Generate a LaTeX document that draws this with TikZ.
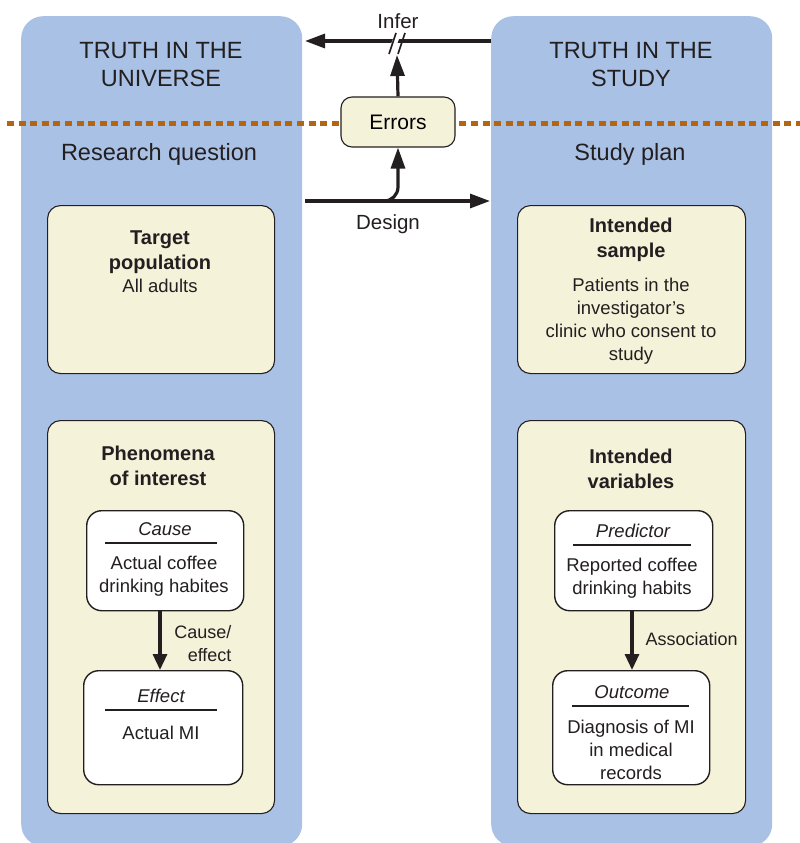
\documentclass[tikz,border=0pt]{standalone}
\usepackage{fontspec}
\setmainfont{Liberation Sans}
\usetikzlibrary{arrows.meta}
\definecolor{colblue}{HTML}{A9C1E5}
\definecolor{creamfill}{HTML}{F5F2DA}
\definecolor{dotbrown}{HTML}{B4650F}
\definecolor{inkdark}{HTML}{231F20}
\newcommand\fsz[2]{\fontsize{#1}{#2}\selectfont}
\begin{document}
\begin{tikzpicture}[x=1pt,y=-1pt,
  column/.style={fill=colblue, rounded corners=22pt, minimum width=281pt, minimum height=830pt, anchor=north west, inner sep=0pt},
  panel/.style={draw=inkdark, fill=creamfill, line width=1.1pt, rounded corners=13pt, anchor=north west, inner sep=0pt},
  innerbox/.style={draw=inkdark, fill=white, line width=1.4pt, rounded corners=15pt, anchor=north west, inner sep=0pt},
  errbox/.style={draw=inkdark, fill=creamfill, line width=1.1pt, rounded corners=11pt, minimum width=114pt, minimum height=50pt, inner sep=0pt, font=\fsz{21}{25}},
  txt/.style={yshift=-2pt, text=inkdark},
  bigtitle/.style={txt, align=center, font=\fsz{23.5}{28}},
  subtitle/.style={txt, align=center, font=\fsz{23.5}{28}},
  paneltitle/.style={txt, align=center, font=\fsz{20}{25}\bfseries},
  bodytext/.style={txt, align=center, font=\fsz{18.5}{23}},
  itlabel/.style={txt, font=\fsz{18.5}{23}\itshape},
  arrowtext/.style={txt, font=\fsz{20.5}{24}},
  sidetext/.style={txt, align=right, font=\fsz{18}{23}},
  bigarrow/.style={draw=inkdark, line width=3.2pt, -{Triangle[length=20pt,width=14pt]}},
  smallarrow/.style={draw=inkdark, line width=3.2pt, -{Triangle[length=16pt,width=14pt]}},
  uparrow/.style={draw=inkdark, line width=3.2pt, -{Triangle[length=21pt,width=14pt]}},
  rule/.style={draw=inkdark, line width=1.2pt}
]
\useasboundingbox (0,0) rectangle (800,843);

% columns
\node[column] (colL) at (21,16) {};
\node[column] (colR) at (491,16) {};

% dotted separator
\draw[dotbrown, line width=5pt, dash pattern=on 7pt off 4.6pt] (7,123) -- (800,123);

% column headings
\node[bigtitle] (tu) at (161,63) {TRUTH IN THE\\UNIVERSE};
\node[bigtitle] (ts) at (631,63) {TRUTH IN THE\\STUDY};
\node[subtitle] (rq) at (159,152) {Research question};
\node[subtitle] (sp) at (630,152) {Study plan};

% panels
\node[panel, minimum width=227pt, minimum height=168pt] (tp) at (47,205) {};
\node[panel, minimum width=228pt, minimum height=168pt] (is) at (517,205) {};
\node[panel, minimum width=227pt, minimum height=393pt] (pi) at (47,420) {};
\node[panel, minimum width=228pt, minimum height=393pt] (iv) at (517,420) {};

\node[paneltitle] (tpt) at (160,250) {Target\\population};
\node[bodytext] (tpb) at (160,284) {All adults};
\node[paneltitle] (ist) at (631,238) {Intended\\sample};
\node[bodytext] (isb) at (631,319) {Patients in the\\investigator's\\clinic who consent to\\study};
\node[paneltitle] (pit) at (158,464) {Phenomena\\of interest};
\node[paneltitle] (ivt) at (631,467) {Intended\\variables};

% inner boxes
\node[innerbox, minimum width=157pt, minimum height=100pt] (cause) at (86,510) {};
\node[innerbox, minimum width=159pt, minimum height=114pt] (effect) at (83,670) {};
\node[innerbox, minimum width=158pt, minimum height=100pt] (pred) at (554,510) {};
\node[innerbox, minimum width=157pt, minimum height=114pt] (outc) at (552,670) {};

\node[itlabel] (causel) at (165,527) {Cause};
\draw[rule] (105,543) -- (217,543);
\node[bodytext] (causet) at (164,574.5) {Actual coffee\\drinking habites};

\node[itlabel] (effectl) at (161,694) {Effect};
\draw[rule] (105,710) -- (217,710);
\node[bodytext] (effectt) at (161,731) {Actual MI};

\node[itlabel] (predl) at (633,529) {Predictor};
\draw[rule] (573,545) -- (691,545);
\node[bodytext] (predt) at (632,576.5) {Reported coffee\\drinking habits};

\node[itlabel] (outcl) at (632,690) {Outcome};
\draw[rule] (572,706) -- (689,706);
\node[bodytext] (outct) at (631,748) {Diagnosis of MI\\in medical\\records};

% inner arrows
\draw[smallarrow] (160,610) -- (160,670);
\node[sidetext, anchor=east] (cel) at (235,641.5) {Cause/\\effect};
\draw[smallarrow] (632,610) -- (632,670);
\node[sidetext, anchor=west] (asl) at (642,637) {Association};

% errors
\node[errbox] (err) at (398,122) {Errors};

% infer arrow
\draw[bigarrow] (491,41) -- (305,41);
\node[arrowtext] (infer) at (398,19) {Infer};
\fill[white] (391,44) -- (397,29) -- (403,29) -- (397,44) -- cycle;
\draw[inkdark, line width=1.6pt] (389,54) -- (396,33);
\draw[inkdark, line width=1.6pt] (398,54) -- (405,33);
\coordinate (slashfoot) at (397,55);
\draw[uparrow] (err.north) -- (slashfoot);

% design arrow
\draw[bigarrow] (305,201) -- (490,201);
\node[arrowtext] (design) at (388,222) {Design};
\draw[uparrow, rounded corners=14pt] (370,201) -| (err.south);
\end{tikzpicture}
\end{document}
